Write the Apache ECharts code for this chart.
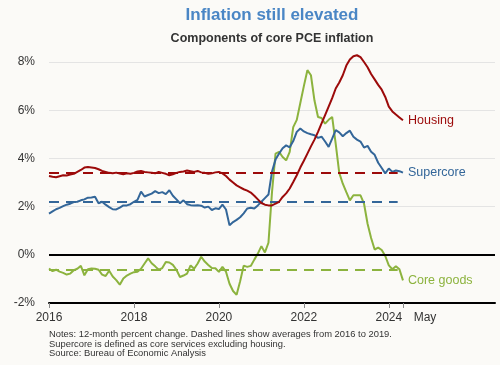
<!DOCTYPE html>
<html>
<head>
<meta charset="utf-8">
<script src="https://cdn.jsdelivr.net/npm/echarts@6/dist/echarts.min.js"></script>
<style>
html,body{margin:0;padding:0;background:#fbfaf7;}
#chart{width:500px;height:365px;}
</style>
</head>
<body>
<div id="chart"></div>
<script>
// Months since Jan 2016 (0 = Jan 2016, 100 = May 2024)
const tickMonths = [0, 24, 48, 72, 96, 100];
const tickLabels = ['2016', '2018', '2020', '2022', '2024', 'May'];
const seriesNames = ['Housing', 'Supercore', 'Core goods'];
const avgValues = [3.4, 2.22, -0.6];     // 2016-2019 averages
const avgEndMonth = 98.5;

const housing = [
 3.27,3.24,3.22,3.26,3.30,3.29,3.33,3.36,3.44,3.52,3.62,3.64,
 3.62,3.60,3.55,3.48,3.44,3.40,3.38,3.41,3.37,3.34,3.38,3.36,
 3.40,3.46,3.48,3.44,3.42,3.40,3.38,3.44,3.40,3.36,3.30,3.34,
 3.40,3.44,3.46,3.50,3.47,3.44,3.48,3.42,3.40,3.36,3.38,3.42,
 3.44,3.38,3.27,3.12,3.00,2.88,2.80,2.72,2.66,2.58,2.45,2.30,
 2.15,2.08,2.05,2.05,2.12,2.20,2.40,2.55,2.75,3.02,3.30,3.62,
 3.90,4.20,4.50,4.78,5.10,5.45,5.80,6.15,6.50,6.90,7.15,7.45,
 7.85,8.10,8.24,8.28,8.20,8.00,7.78,7.50,7.28,7.05,6.85,6.55,
 6.15,5.95,5.82,5.70,5.58
];
const supercore = [
 1.71,1.80,1.89,1.95,2.02,2.08,2.12,2.19,2.20,2.26,2.30,2.37,
 2.38,2.41,2.14,2.20,2.08,1.98,1.89,1.88,1.96,2.05,2.05,2.10,
 2.20,2.28,2.62,2.42,2.48,2.54,2.64,2.56,2.60,2.52,2.68,2.45,
 2.30,2.14,2.26,2.10,2.06,2.05,2.06,2.04,1.96,2.00,1.86,1.93,
 1.90,2.08,1.88,1.22,1.36,1.45,1.56,1.72,1.92,1.95,1.92,2.05,
 2.20,2.35,2.50,3.45,3.95,4.20,4.42,4.54,4.46,4.72,5.10,5.24,
 5.12,5.05,5.00,4.96,4.85,4.90,4.70,4.48,4.82,5.17,5.08,4.92,
 5.05,5.15,4.90,4.78,4.70,4.45,4.52,4.28,4.15,3.82,3.60,3.38,
 3.58,3.44,3.50,3.47,3.41
];
const coreGoods = [
 -0.57,-0.68,-0.62,-0.70,-0.75,-0.82,-0.78,-0.64,-0.58,-0.46,-0.85,-0.60,
 -0.57,-0.58,-0.62,-0.82,-0.88,-0.66,-0.90,-1.05,-1.24,-0.98,-0.86,-0.78,
 -0.72,-0.70,-0.58,-0.36,-0.15,-0.35,-0.48,-0.62,-0.55,-0.30,-0.32,-0.42,
 -0.62,-0.92,-0.86,-0.78,-0.44,-0.58,-0.36,-0.08,-0.28,-0.42,-0.55,-0.56,
 -0.71,-0.50,-0.70,-1.20,-1.50,-1.66,-1.10,-0.45,-0.50,-0.46,-0.20,0.05,
 0.36,0.10,0.50,2.60,4.20,4.27,4.06,3.92,4.27,5.30,5.60,6.30,
 7.00,7.66,7.45,6.40,5.72,5.68,5.44,5.60,5.72,4.60,3.40,2.95,
 2.60,2.26,2.47,2.47,2.47,2.12,1.29,0.70,0.22,0.30,0.20,-0.05,
 -0.44,-0.60,-0.47,-0.60,-1.06
];

const colors = ['#9c0a0a', '#336699', '#8cb33e'];
const values = [housing, supercore, coreGoods];
const FONT = 'Liberation Sans, Arial, sans-serif';

const series = values.map((arr, i) => ({
  name: seriesNames[i],
  type: 'line',
  data: arr.map((v, m) => [m, v]),
  showSymbol: false,
  clip: false,
  z: 5 - i,
  lineStyle: { color: colors[i], width: 2 },
  itemStyle: { color: colors[i] },
  endLabel: {
    show: true,
    formatter: seriesNames[i],
    color: colors[i],
    fontSize: 12.5,
    fontFamily: FONT,
    distance: 5
  },
  markLine: {
    silent: true,
    symbol: 'none',
    label: { show: false },
    lineStyle: { color: colors[i], width: 2.2, type: [10, 7] },
    data: [[{ coord: [0, avgValues[i]] }, { coord: [avgEndMonth, avgValues[i]] }]]
  }
}));

// zero line
series.push({
  type: 'line',
  data: [],
  markLine: {
    silent: true,
    symbol: 'none',
    label: { show: false },
    lineStyle: { color: '#000', width: 2, type: 'solid' },
    data: [{ yAxis: 0 }]
  },
  z: 1
});

const chart = echarts.init(document.getElementById('chart'), null, { renderer: 'canvas' });
chart.setOption({
  backgroundColor: '#fbfaf7',
  animation: false,
  textStyle: { fontFamily: FONT },
  title: [
    {
      text: 'Inflation still elevated',
      left: 272, top: 7, textAlign: 'center', padding: 0,
      textStyle: { color: '#4a86c5', fontSize: 17, fontWeight: 'bold', fontFamily: FONT }
    },
    {
      text: 'Components of core PCE inflation',
      left: 272, top: 32, textAlign: 'center', padding: 0,
      textStyle: { color: '#333', fontSize: 12.5, fontWeight: 'bold', fontFamily: FONT }
    },
    {
      text: 'Notes: 12-month percent change. Dashed lines show averages from 2016 to 2019.\nSupercore is defined as core services excluding housing.\nSource: Bureau of Economic Analysis',
      left: 49, top: 330, padding: 0,
      textStyle: { color: '#333', fontSize: 9.4, fontWeight: 'normal', lineHeight: 9.5, fontFamily: FONT }
    }
  ],
  grid: { left: 49, right: 5, top: 62, bottom: 62 },
  xAxis: {
    type: 'value',
    min: 0, max: 126,
    splitLine: { show: false },
    axisLine: { show: true, onZero: false, lineStyle: { color: '#000', width: 2 } },
    axisTick: { show: true, customValues: tickMonths, length: 5, lineStyle: { color: '#888', width: 1 } },
    axisLabel: {
      customValues: tickMonths,
      color: '#333', fontSize: 12, margin: 9,
      formatter: function (v) {
        const i = tickMonths.indexOf(v);
        if (i < 0) return '';
        return tickLabels[i] === 'May' ? '{may|May}' : tickLabels[i];
      },
      rich: { may: { fontSize: 12, color: '#333', padding: [0, 0, 0, 44] } }
    }
  },
  yAxis: {
    type: 'value',
    min: -2, max: 8, interval: 2,
    axisLine: { show: false },
    axisTick: { show: false },
    axisLabel: { formatter: '{value}%', color: '#333', fontSize: 12, margin: 14 },
    splitLine: { lineStyle: { color: '#e4e4e4', width: 1 } }
  },
  series: series
});
</script>
</body>
</html>
